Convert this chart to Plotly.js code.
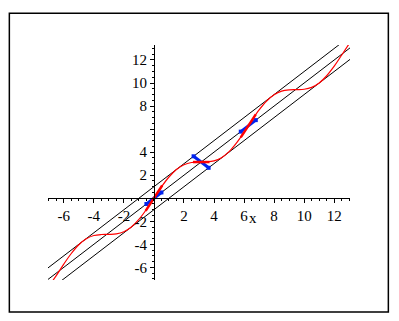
<!DOCTYPE html>
<html>
<head>
<meta charset="utf-8">
<script src="https://cdn.plot.ly/plotly-3.0.1.min.js"></script>
<style>html,body{margin:0;padding:0;background:#fff;}#chart{width:399px;height:321px;}</style>
</head>
<body>
<div id="chart"></div>
<script>
// Red curve points
const curveX = [-7, -6.5, -6, -5.5, -5, -4.5, -4, -3.5, -3, -2.5, -2, -1.5, -1, -0.5, 0, 0.5, 1, 1.5, 2, 2.5, 3, 3.5, 4, 4.5, 5, 5.5, 6, 6.5, 7, 7.5, 8, 8.5, 9, 9.5, 10, 10.5, 11, 11.5, 12, 12.5, 13];
const curveY = [-7.66, -6.72, -5.72, -4.80, -4.04, -3.52, -3.24, -3.15, -3.14, -3.10, -2.91, -2.50, -1.84, -0.98, 0, 0.98, 1.84, 2.50, 2.91, 3.10, 3.14, 3.15, 3.24, 3.52, 4.04, 4.80, 5.72, 6.72, 7.66, 8.44, 8.99, 9.30, 9.41, 9.43, 9.46, 9.62, 10.00, 10.63, 11.46, 12.43, 13.42];

// Black straight lines (endpoints)
const upperLineX = [-9, 15], upperLineY = [-8, 16];
const middleLineX = [-9, 15], middleLineY = [-9, 15];
const lowerLineX = [-9, 15], lowerLineY = [-10, 14];

// Thick red segments
const redSegX = [[-0.55, 0.55], [2.6, 3.7], [5.78, 6.78]];
const redSegY = [[-1.1, 1.1], [3.14, 3.14], [5.28, 7.28]];

// Blue segments
const blueSegX = [[-0.5, 0.5], [2.64, 3.64], [5.78, 6.78]];
const blueSegY = [[-0.5, 0.5], [3.64, 2.64], [5.78, 6.78]];

// Tick labels
const xTickVals = [-6, -4, -2, 2, 4, 6, 8, 10, 12];
const xTickText = ['-6', '-4', '-2', '2', '4', '6', '8', '10', '12'];
const yTickVals = [-6, -4, -2, 2, 4, 6, 8, 10, 12];
const yTickText = ['-6', '-4', '-2', '2', '4', '', '8', '10', '12'];

const traces = [];
[[upperLineX, upperLineY], [middleLineX, middleLineY], [lowerLineX, lowerLineY]].forEach(([x, y]) => {
  traces.push({x: x, y: y, mode: 'lines', line: {color: 'black', width: 1}, hoverinfo: 'skip'});
});
traces.push({x: curveX, y: curveY, mode: 'lines', line: {color: '#ff0000', width: 1.2, shape: 'spline'}, hoverinfo: 'skip'});
blueSegX.forEach((x, i) => {
  traces.push({x: x, y: blueSegY[i], mode: 'lines+markers', line: {color: '#0022ee', width: 3},
    marker: {color: '#0022ee', size: 4, symbol: 'square'}, hoverinfo: 'skip'});
});
redSegX.forEach((x, i) => {
  traces.push({x: x, y: redSegY[i], mode: 'lines', line: {color: '#ff0000', width: 2.5}, hoverinfo: 'skip'});
});

const xr = [-7.05, 13.05], yr = [-7.1, 13.3];
const font = {family: '"Liberation Serif", serif', size: 15, color: 'black'};

const layout = {
  width: 399, height: 321,
  margin: {l: 48, r: 48.5, t: 45, b: 41},
  showlegend: false,
  paper_bgcolor: 'white', plot_bgcolor: 'white',
  font: font,
  xaxis: {
    range: xr, anchor: 'free', position: (0 - yr[0]) / (yr[1] - yr[0]),
    showline: true, linecolor: 'black', linewidth: 1,
    showgrid: false, zeroline: false,
    ticks: 'outside', ticklen: 4, tickcolor: 'black', tickwidth: 1,
    tickmode: 'array', tickvals: xTickVals, ticktext: xTickText, tickfont: font,
    minor: {dtick: 0.5, tick0: 0, ticks: 'outside', ticklen: 2, tickcolor: 'black', showgrid: false}
  },
  yaxis: {
    range: yr, anchor: 'free', position: (0 - xr[0]) / (xr[1] - xr[0]),
    showline: true, linecolor: 'black', linewidth: 1,
    showgrid: false, zeroline: false,
    ticks: 'outside', ticklen: 4, tickcolor: 'black', tickwidth: 1,
    tickmode: 'array', tickvals: yTickVals, ticktext: yTickText, tickfont: font,
    minor: {dtick: 0.5, tick0: 0, ticks: 'outside', ticklen: 2, tickcolor: 'black', showgrid: false}
  },
  annotations: [{
    x: 6.6, y: -1.7, xref: 'x', yref: 'y', text: 'x', showarrow: false,
    xanchor: 'center', yanchor: 'middle', font: font
  }],
  shapes: [{
    type: 'rect', xref: 'paper', yref: 'paper',
    x0: -0.128, x1: 1.127, y0: -0.136, y1: 1.135,
    line: {color: 'black', width: 1.5}
  }]
};

Plotly.newPlot('chart', traces, layout, {staticPlot: true, displayModeBar: false});
</script>
</body>
</html>
